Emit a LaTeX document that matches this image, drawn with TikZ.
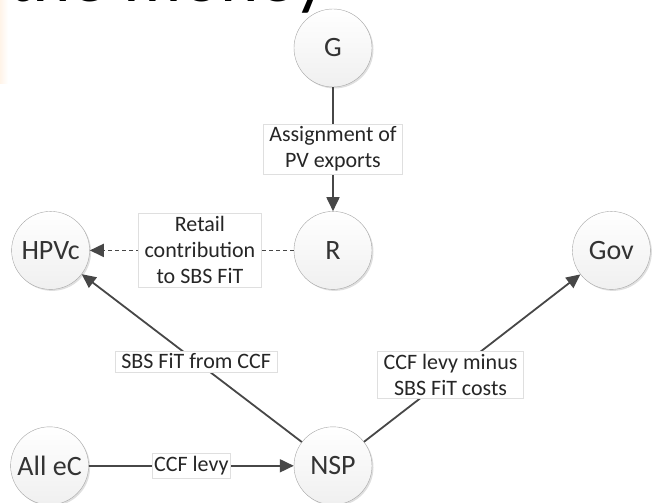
\documentclass[tikz,border=0pt]{standalone}
\usepackage{fontspec}
\setmainfont{Carlito}
\usetikzlibrary{positioning, shadows, arrows.meta}

\begin{document}
\begin{tikzpicture}[
    x=1pt, y=1pt,
    party/.style={circle, draw=gray!70, minimum size=78pt, inner sep=0pt, top color=white, bottom color=gray!12, text=black!80, font=\fontsize{28}{30}\selectfont, drop shadow={opacity=0.25, shadow xshift=1.5pt, shadow yshift=-1.5pt}},
    flow/.style={-{Triangle[length=14pt, width=13pt]}, draw=black!72, line width=1.8pt},
    tag/.style={solid, fill=white, draw=gray!25, line width=0.6pt, inner xsep=6pt, inner ysep=3pt, align=center, text=black!85, font=\fontsize{22}{26}\selectfont}
  ]
    \useasboundingbox (0,0) rectangle (654,-503);

    % slide title, cut off at the top
    \begin{scope}
      \clip (0,0) rectangle (654,-503);
      \fill[left color=orange!9, right color=white] (0,0) rectangle (8,-84);
      \node[anchor=base west, inner sep=0pt, font=\fontsize{73}{80}\selectfont] (title) at (8,-2) {the money};
    \end{scope}

    \node[party] (G) at (333,-48) {G};
    \node[party] (R) [below=124pt of G] {R};
    \node[party] (HPVc) [left=204pt of R] {HPVc};
    \node[party] (Gov) [right=200pt of R] {Gov};
    \node[party] (NSP) [below=137pt of R] {NSP};
    \node[party] (AlleC) [left=205pt of NSP] {All eC};

    \draw[flow] (G) -- (R) node[tag, midway] {Assignment of\\PV exports};
    \draw[flow, dash pattern=on 4pt off 3pt] (R) -- (HPVc) node[tag, pos=0.46] {Retail\\contribution\\to SBS FiT};
    \draw[flow] (NSP) -- (HPVc) node[tag, pos=0.48] {SBS FiT from CCF};
    \draw[flow] (NSP) -- (Gov) node[tag, pos=0.40] {CCF levy minus\\SBS FiT costs};
    \draw[flow] (AlleC) -- (NSP) node[tag, midway, inner xsep=2pt] {CCF levy};
  \end{tikzpicture}
\end{document}
